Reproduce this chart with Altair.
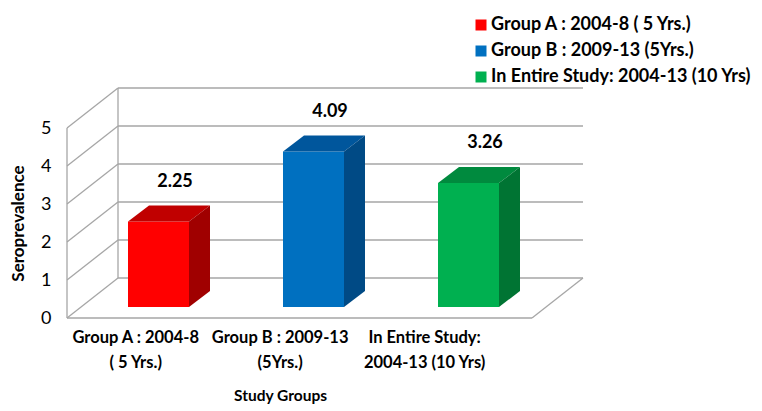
import altair as alt
import pandas as pd

# ---------------- data ----------------
groups = ["Group A : 2004-8 ( 5 Yrs.)", "Group B : 2009-13  (5Yrs.)", "In Entire Study:  2004-13 (10 Yrs)"]
values = [2.25, 4.09, 3.26]
value_labels = ["2.25", "4.09", "3.26"]
cat_lines = [["Group A : 2004-8", "( 5 Yrs.)"],
             ["Group B : 2009-13", "(5Yrs.)"],
             ["In Entire Study:", "2004-13 (10 Yrs)"]]
y_ticks = [0, 1, 2, 3, 4, 5]

front_colors = ["#FF0000", "#0070C0", "#00B050"]
top_colors = ["#C00000", "#00569C", "#008A3E"]
side_colors = ["#A00000", "#004A85", "#007433"]

# ---------------- 3-D geometry (style constants, in scale units) ----------------
PXX, PXY = 155.0, 38.0           # px per x unit / per y unit
DX, DY = 51 / PXX, 40 / PXY      # full depth of the box
BFX, BFY = 14 / PXX, 11 / PXY    # bar front face depth shift
BDX, BDY = 21 / PXX, 16 / PXY    # bar depth
HW = 30.5 / PXX                  # bar half-width
YMAX = max(y_ticks)
XMAX = len(groups)
cat_pos = [0.44 + 0.932 * i for i in range(len(groups))]

FONT = "Lato"
XT = "Study Groups"
YT = "Seroprevalence"

# grid / wall lines
lines = []
for k in y_ticks:
    lines.append(dict(x=DX, y=k + DY, x2=XMAX + DX, y2=k + DY))
    lines.append(dict(x=0, y=k, x2=DX, y2=k + DY))
lines.append(dict(x=0, y=0, x2=0, y2=YMAX))
lines.append(dict(x=DX, y=DY, x2=DX, y2=YMAX + DY))
lines.append(dict(x=0, y=0, x2=XMAX, y2=0))
lines.append(dict(x=XMAX, y=0, x2=XMAX + DX, y2=DY))
lines_df = pd.DataFrame(lines)

front_rows, top_rows, side_rows, lab_rows = [], [], [], []
for i, (g, v) in enumerate(zip(groups, values)):
    xl = i + 0.5 - HW + BFX
    xr = i + 0.5 + HW + BFX
    b = BFY
    t = v + BFY
    front_rows.append(dict(group=g, xl=xl, xr=xr, yb=b, yt=t))
    top_rows.append(dict(bar=i, col=top_colors[i], y=t, xa=xl, xb=xr))
    top_rows.append(dict(bar=i, col=top_colors[i], y=t + BDY, xa=xl + BDX, xb=xr + BDX))
    side_rows.append(dict(bar=i, col=side_colors[i], x=xr, ya=b, yb=t))
    side_rows.append(dict(bar=i, col=side_colors[i], x=xr + BDX, ya=b + BDY, yb=t + BDY))
    lab_rows.append(dict(x=i + 0.5 + BFX + BDX / 2, y=t + BDY, label=value_labels[i]))

front_df = pd.DataFrame(front_rows)
top_df = pd.DataFrame(top_rows)
side_df = pd.DataFrame(side_rows)
lab_df = pd.DataFrame(lab_rows)

xscale = alt.Scale(domain=[0, XMAX + DX], nice=False, zero=False)
yscale = alt.Scale(domain=[0, YMAX + DY], nice=False, zero=False)


def js_arr(a):
    return "[" + ",".join("'" + s + "'" for s in a) + "]"


label_expr = ("datum.value < 1 ? " + js_arr(cat_lines[0]) +
              " : datum.value < 2 ? " + js_arr(cat_lines[1]) +
              " : " + js_arr(cat_lines[2]))

x_axis = alt.Axis(values=cat_pos, labelExpr=label_expr, domain=False, ticks=False,
                  grid=False, labelPadding=11, labelFontSize=16.5, labelFontWeight="bold",
                  labelColor="#000000", labelFont=FONT, labelLineHeight=25,
                  labelOverlap=False, labelBound=False, labelFlush=False,
                  labelBaseline="top",
                  titleX=213, titleY=77, titleAlign="center",
                  titleBaseline="middle", titleFontSize=15.5, titleFont=FONT,
                  titleFontWeight="bold", titleColor="#000000")
y_axis = alt.Axis(values=y_ticks, domain=False, ticks=False, grid=False,
                  labelPadding=16, labelFontSize=18, labelFont=FONT,
                  labelColor="#000000", format="d",
                  titleX=-49, titleY=135, titleAlign="center",
                  titleBaseline="middle", titleAngle=270, titleFontSize=17,
                  titleFont=FONT, titleFontWeight="bold", titleColor="#000000")

grid = alt.Chart(lines_df).mark_rule(color="#A6A6A6", strokeWidth=1.3).encode(
    x=alt.X("x:Q", scale=xscale, axis=x_axis, title=XT),
    x2="x2:Q",
    y=alt.Y("y:Q", scale=yscale, axis=y_axis, title=YT),
    y2="y2:Q",
)

front = alt.Chart(front_df).mark_rect().encode(
    x=alt.X("xl:Q", axis=x_axis, title=XT),
    x2="xr:Q",
    y=alt.Y("yb:Q", axis=y_axis, title=YT),
    y2="yt:Q",
    color=alt.Color("group:N", scale=alt.Scale(domain=groups, range=front_colors),
                    legend=alt.Legend(orient="none", legendX=405, legendY=-72, title=None,
                                      symbolType="square", symbolSize=121,
                                      symbolStrokeWidth=0, labelFontSize=18,
                                      labelFontWeight="bold", labelFont=FONT,
                                      labelColor="#000000", rowPadding=8, labelOffset=1,
                                      labelLimit=400)),
)

top = alt.Chart(top_df).mark_area(orient="horizontal").encode(
    y=alt.Y("y:Q", axis=y_axis, title=YT),
    x=alt.X("xa:Q", axis=x_axis, title=XT),
    x2="xb:Q",
    detail="bar:N",
    fill=alt.Fill("col:N", scale=None),
)

side = alt.Chart(side_df).mark_area(orient="vertical").encode(
    x=alt.X("x:Q", axis=x_axis, title=XT),
    y=alt.Y("ya:Q", axis=y_axis, title=YT),
    y2="yb:Q",
    detail="bar:N",
    fill=alt.Fill("col:N", scale=None),
)

labels = alt.Chart(lab_df).mark_text(dy=-24, dx=6, fontSize=18, fontWeight="bold",
                                     font=FONT, color="#000000", baseline="middle").encode(
    x=alt.X("x:Q", axis=x_axis, title=XT),
    y=alt.Y("y:Q", axis=y_axis, title=YT),
    text="label:N",
)

W = int(round((XMAX + DX) * PXX))
H = int(round((YMAX + DY) * PXY))
chart = alt.layer(grid, front, top, side, labels).properties(
    width=W,
    height=H,
    autosize=alt.AutoSizeParams(type="none"),
    padding={"left": 67, "top": 88, "right": 762 - 67 - W, "bottom": 411 - 88 - H},
    background="#FFFFFF",
).configure_view(stroke=None)

chart.save("out.html", embed_options={"renderer": "svg", "actions": False})
